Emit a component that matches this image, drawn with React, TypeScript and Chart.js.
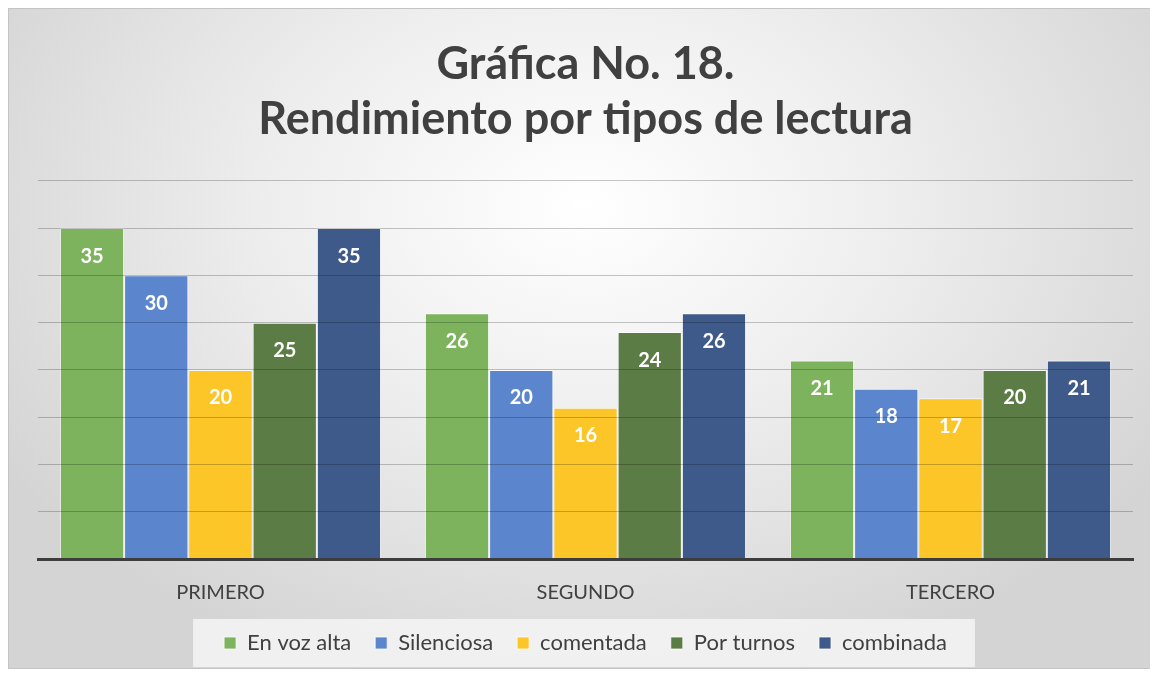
import React, { useEffect, useRef } from "react";
import { Chart, registerables } from "chart.js";

Chart.register(...registerables);

const categories = ["PRIMERO", "SEGUNDO", "TERCERO"];
const seriesNames = ["En voz alta", "Silenciosa", "comentada", "Por turnos", "combinada"];
const enVozAlta = [35, 26, 21];
const silenciosa = [30, 20, 18];
const comentada = [20, 16, 17];
const porTurnos = [25, 24, 20];
const combinada = [35, 26, 21];
const seriesColors = ["#7db35d", "#5b85cd", "#fcc528", "#5b7c45", "#3e5a8a"];
const titleLines = ["Gráfica No. 18.", "Rendimiento por tipos de lectura"];

const FONT = "Lato, 'Open Sans', sans-serif";

const valueLabels = {
  id: "valueLabels",
  afterDatasetsDraw(chart: any) {
    const ctx = chart.ctx;
    ctx.save();
    ctx.fillStyle = "#ffffff";
    ctx.font = `bold 20px ${FONT}`;
    ctx.textAlign = "center";
    ctx.textBaseline = "middle";
    chart.data.datasets.forEach((ds: any, i: number) => {
      const meta = chart.getDatasetMeta(i);
      meta.data.forEach((bar: any, j: number) => {
        ctx.fillText(String(ds.data[j]), bar.x, bar.y + 28);
      });
    });
    ctx.restore();
  },
};

const legendBg = {
  id: "legendBg",
  beforeDraw(chart: any) {
    const lg = chart.legend;
    if (!lg || !lg.legendHitBoxes || !lg.legendHitBoxes.length) return;
    const boxes = lg.legendHitBoxes;
    const left = boxes[0].left - 31;
    const right = boxes[boxes.length - 1].left + boxes[boxes.length - 1].width + 28;
    const top = boxes[0].top - 13;
    const bottom = boxes[0].top + boxes[0].height + 13;
    const ctx = chart.ctx;
    ctx.save();
    ctx.fillStyle = "rgba(244,244,244,0.85)";
    ctx.fillRect(left, top, right - left, bottom - top);
    ctx.restore();
  },
};

export default function App() {
  const ref = useRef<HTMLCanvasElement | null>(null);
  useEffect(() => {
    if (!ref.current) return;
    const all = [enVozAlta, silenciosa, comentada, porTurnos, combinada];
    const chart = new Chart(ref.current, {
      type: "bar",
      data: {
        labels: categories,
        datasets: all.map((d, i) => ({
          label: seriesNames[i],
          data: d,
          backgroundColor: seriesColors[i],
          borderColor: "rgba(255,255,255,0.75)",
          borderWidth: 1,
          categoryPercentage: 0.88,
          barPercentage: 1,
        })),
      },
      options: {
        responsive: false,
        animation: false,
        layout: { padding: { left: 29, right: 25, top: 0, bottom: 4 } },
        plugins: {
          title: {
            display: true,
            text: titleLines,
            color: "#404040",
            font: { family: FONT, size: 45, weight: "bold", lineHeight: 1.22 },
            padding: { top: 28, bottom: 34 },
          },
          legend: {
            position: "bottom",
            labels: {
              color: "#404040",
              font: { family: FONT, size: 22 },
              boxWidth: 12,
              boxHeight: 12,
              padding: 24,
            },
          },
          tooltip: { enabled: false },
        },
        scales: {
          x: {
            grid: { display: false },
            border: { display: true, color: "#3d3d3d", width: 3, z: 2 },
            ticks: { color: "#404040", font: { family: FONT, size: 20 }, padding: 14 },
            afterFit: (scale: any) => {
              scale.height -= 11;
            },
          },
          y: {
            min: 0,
            max: 40,
            ticks: { display: false, stepSize: 5 },
            border: { display: false },
            grid: { color: "rgba(0,0,0,0.22)", lineWidth: 1, z: 1, drawTicks: false },
          },
        },
      },
      plugins: [legendBg, valueLabels],
    });
    return () => chart.destroy();
  }, []);
  return (
    <div
      style={{
        width: 1149,
        height: 659,
        border: "1px solid #c4c4c4",
        background:
          "radial-gradient(ellipse 60% 75% at 50% 30%, #ffffff 0%, #eeeeee 45%, #d4d4d4 100%)",
      }}
    >
      <canvas ref={ref} width={1149} height={659} />
    </div>
  );
}
